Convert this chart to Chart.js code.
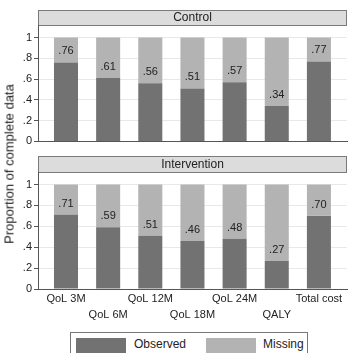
<!DOCTYPE html>
<html>
<head>
<meta charset="utf-8">
<script src="https://cdn.jsdelivr.net/npm/chart.js@4/dist/chart.umd.min.js"></script>
<style>
  html, body { margin: 0; padding: 0; background: #fff; }
  body { width: 352px; height: 353px; position: relative; overflow: hidden; font-family: "Liberation Sans", Arial, sans-serif; }
  .box { position: absolute; left: 0; width: 352px; }
  #ytitle { position: absolute; left: 9px; top: 164px; transform: translate(-50%, -50%) rotate(-90deg); font-size: 13px; color: #222; white-space: nowrap; }
  #legend { position: absolute; left: 70px; top: 332px; width: 238px; height: 30px; border: 1px solid #777; box-sizing: border-box; }
  .sw { position: absolute; top: 5px; width: 50px; height: 17px; }
  .lt { position: absolute; top: 4px; font-size: 12px; color: #222; }
</style>
</head>
<body>
<div class="box" style="top:0;height:150px"><canvas id="c1"></canvas></div>
<div class="box" style="top:150px;height:180px"><canvas id="c2"></canvas></div>
<div id="ytitle">Proportion of complete data</div>
<div id="legend">
  <div class="sw" style="left:5px;background:#727272"></div><div class="lt" style="left:63px">Observed</div>
  <div class="sw" style="left:135px;background:#b3b3b3"></div><div class="lt" style="left:192px">Missing</div>
</div>
<script>
const categories = ['QoL 3M', 'QoL 6M', 'QoL 12M', 'QoL 18M', 'QoL 24M', 'QALY', 'Total cost'];
const controlObserved = [0.76, 0.61, 0.56, 0.51, 0.57, 0.34, 0.77];
const interventionObserved = [0.71, 0.59, 0.51, 0.46, 0.48, 0.27, 0.70];
const yTicks = [0, 0.2, 0.4, 0.6, 0.8, 1];

const DARK = '#727272', LIGHT = '#b3b3b3';
Chart.defaults.font.family = '"Liberation Sans", Arial, sans-serif';
Chart.defaults.font.size = 11;
Chart.defaults.color = '#222';
Chart.defaults.animation = false;

// stata-ish number formats: ".8" for ticks, ".70" for bar labels
const tickFmt = v => v === 0 ? '0' : v === 1 ? '1' : v.toFixed(1).replace(/^0/, '');
const valFmt = v => v.toFixed(2).replace(/^0/, '');

// strip header + value labels above the dark segment
const panelPlugin = {
  id: 'panel',
  beforeDraw(chart, args, opts) {
    const { ctx, chartArea: a } = chart;
    ctx.save();
    ctx.fillStyle = '#dcdcdc';
    ctx.strokeStyle = '#7a7a7a';
    ctx.lineWidth = 1;
    const top = a.top - opts.h;
    ctx.fillRect(a.left, top, a.right - a.left, opts.h);
    ctx.strokeRect(a.left + 0.5, top + 0.5, a.right - a.left - 1, opts.h);
    ctx.fillStyle = '#222';
    ctx.font = '12px "Liberation Sans", Arial, sans-serif';
    ctx.textAlign = 'center';
    ctx.textBaseline = 'middle';
    ctx.fillText(opts.text, (a.left + a.right) / 2, top + opts.h / 2 + 0.5);
    ctx.restore();
  },
  afterDatasetsDraw(chart) {
    const { ctx } = chart;
    const meta = chart.getDatasetMeta(0);
    const vals = chart.data.datasets[0].data;
    ctx.save();
    ctx.fillStyle = '#222';
    ctx.font = '11px "Liberation Sans", Arial, sans-serif';
    ctx.textAlign = 'center';
    ctx.textBaseline = 'middle';
    meta.data.forEach((bar, i) => ctx.fillText(valFmt(vals[i]), bar.x, bar.y - 11));
    ctx.restore();
  }
};

function makeChart(id, observed, title, showX, padTop, stripH, xHeight) {
  return new Chart(document.getElementById(id), {
    type: 'bar',
    data: {
      labels: categories.map((c, i) => i % 2 === 0 ? [c, ''] : ['', c]),
      datasets: [
        { label: 'Observed', data: observed, backgroundColor: DARK },
        { label: 'Missing', data: observed.map(v => +(1 - v).toFixed(2)), backgroundColor: LIGHT }
      ]
    },
    options: {
      responsive: true, maintainAspectRatio: false,
      layout: { padding: { top: padTop, right: 5, left: 0, bottom: 0 } },
      datasets: { bar: { categoryPercentage: 1, barPercentage: 0.57 } },
      plugins: { legend: { display: false }, tooltip: { enabled: false }, panel: { text: title, h: stripH } },
      scales: {
        x: {
          stacked: true,
          grid: { display: false, drawTicks: false },
          border: { color: '#555' },
          ticks: { display: showX, padding: 2, maxRotation: 0, autoSkip: false, font: { size: 11, lineHeight: 1.45 } },
          afterBuildTicks: s => { s._startValue = -0.664; s._valueRange = 7.33; },
          afterFit: s => { s.height = xHeight; }
        },
        y: {
          stacked: true, min: 0, max: 1.12,
          grid: { color: '#e8e8e8', tickColor: '#555', tickLength: 4 },
          border: { color: '#555' },
          ticks: { padding: 2, callback: v => tickFmt(v) },
          afterBuildTicks: s => { s.ticks = yTicks.map(v => ({ value: v })); },
          afterFit: s => { s.width = 38; }
        }
      }
    },
    plugins: [panelPlugin]
  });
}

makeChart('c1', controlObserved, 'Control', false, 25, 15, 6);
makeChart('c2', interventionObserved, 'Intervention', true, 22, 16, 41);
</script>
</body>
</html>
